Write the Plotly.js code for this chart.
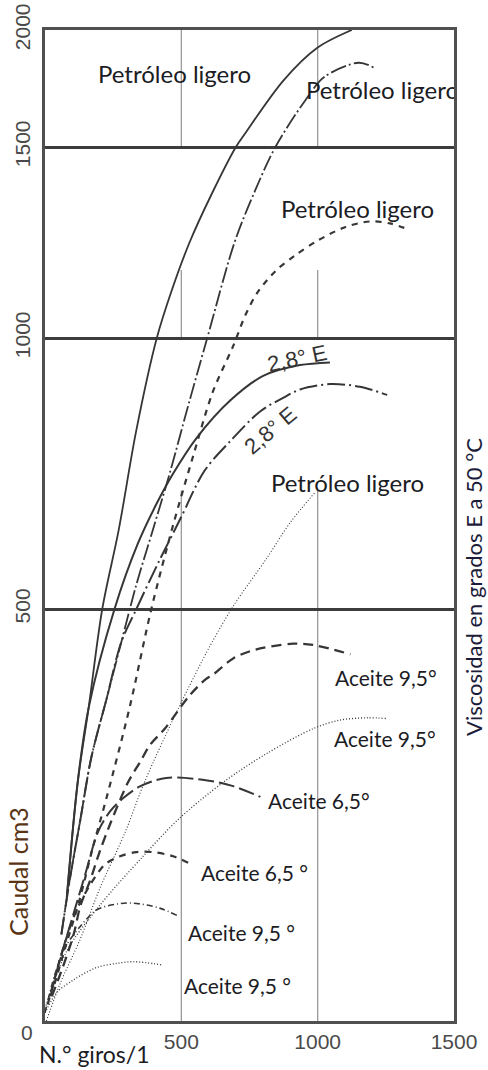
<!DOCTYPE html>
<html><head><meta charset="utf-8">
<script src="https://cdn.plot.ly/plotly-3.0.1.min.js"></script>
<style>html,body{margin:0;padding:0;background:#fff}#chart{width:488px;height:1070px}</style>
</head><body><div id="chart"></div>
<script>
// ---- tick labels ----
const xTicks = [500, 1000, 1500];
const yTicks = [500, 1000, 1500, 2000];

// ---- series (x: N.° giros/1, y: Caudal cm3) ----
// Petróleo ligero (solid)
const petA_x = [80,120,160,210,270,335,410,465,530,610,700,735,875,1000,1125];
const petA_y = [150,290,380,500,645,830,1000,1125,1250,1375,1500,1560,1785,1925,2000];
// Petróleo ligero (dash-dot)
const petB_x = [60,90,130,170,225,280,335,395,460,525,595,695,770,845,955,1025,1150,1205];
const petB_y = [105,170,245,320,390,460,545,645,755,875,1000,1250,1385,1500,1700,1800,1860,1840];
// Petróleo ligero (dashed)
const petC_x = [35,75,125,175,225,310,390,470,545,615,690,735,780,845,915,1000,1100,1190,1265,1330];
const petC_y = [45,90,145,210,270,380,500,655,785,900,985,1060,1120,1175,1215,1255,1290,1305,1300,1285];
// Petróleo ligero (dotted)
const petF_x = [5,55,130,200,295,365,490,605,690,815,900,990];
const petF_y = [0,45,100,160,230,290,380,455,505,595,660,715];
// 2,8° E (solid)
const e28a_x = [80,120,160,255,340,410,470,555,680,800,935,1045];
const e28a_y = [150,290,380,500,620,695,750,815,885,930,950,955];
// 2,8° E (dash-dot)
const e28b_x = [60,90,130,170,225,280,335,420,495,585,680,790,875,935,1045,1155,1255];
const e28b_y = [105,170,245,320,390,460,500,590,665,755,810,865,890,905,915,910,895];
// Aceite 9,5° (long dash)
const ac95a_x = [25,65,105,130,165,200,240,305,350,385,440,530,590,615,690,765,910,990,1120];
const ac95a_y = [30,65,105,140,170,205,240,290,315,335,355,395,415,420,440,450,458,456,445];
// Aceite 9,5° (dotted)
const ac95b_x = [0,80,200,360,490,655,815,985,1080,1180,1255];
const ac95b_y = [15,85,140,200,245,290,325,355,365,368,367];
// Aceite 6,5° (long dash)
const ac65a_x = [20,55,100,145,195,240,285,350,445,595,690,790];
const ac65a_y = [30,75,125,175,230,255,270,285,295,292,285,272];
// Aceite 6,5° (dashed)
const ac65b_x = [10,55,110,165,220,275,335,395,470,525];
const ac65b_y = [20,75,130,165,190,200,205,205,200,192];
// Aceite 9,5° (dash-dot-dot)
const ac95c_x = [0,35,75,130,190,265,325,420,485];
const ac95c_y = [10,55,90,115,135,142,143,137,128];
// Aceite 9,5° (dotted, lowest)
const ac95d_x = [0,45,105,190,265,325,430];
const ac95d_y = [10,35,50,65,70,72,68];

// ---- the chart's non-uniform vertical scale (piecewise linear) ----
const valBreaks = [0, 500, 1000, 1500, 2000];
const posBreaks = [0, 412, 683, 874, 991];
function T(v){
  for (let i = 0; i < valBreaks.length - 1; i++){
    if (v <= valBreaks[i+1] || i === valBreaks.length - 2){
      const f = (v - valBreaks[i]) / (valBreaks[i+1] - valBreaks[i]);
      return posBreaks[i] + f * (posBreaks[i+1] - posBreaks[i]);
    }
  }
}

const INK = '#363636';
function curve(xs, ys, dash, width){
  return {x: xs, y: ys.map(T), type: 'scatter', mode: 'lines',
    line: {color: INK, width: width, dash: dash, shape: 'spline', smoothing: 0.9},
    hoverinfo: 'skip', showlegend: false, cliponaxis: true};
}

const traces = [
  curve(petA_x, petA_y, 'solid', 1.8),
  curve(petB_x, petB_y, '16px,3px,2px,3px', 1.8),
  curve(petC_x, petC_y, '6px,6px', 2.2),
  curve(petF_x, petF_y, '1px,2px', 1.1),
  curve(e28a_x, e28a_y, 'solid', 2),
  curve(e28b_x, e28b_y, '18px,4px,2px,4px', 2),
  curve(ac95a_x, ac95a_y, '10px,6px', 2.3),
  curve(ac95b_x, ac95b_y, '1px,2px', 1.3),
  curve(ac65a_x, ac65a_y, '16px,5px', 2),
  curve(ac65b_x, ac65b_y, '7px,6px', 2.2),
  curve(ac95c_x, ac95c_y, '6px,3px,1px,3px', 1.6),
  curve(ac95d_x, ac95d_y, '1px,2px', 1.3)
];

// clipped label (cut by the frame in the original)
traces.push({x: [957], y: [928], type: 'scatter', mode: 'text', text: ['Petróleo ligero'],
  textposition: 'middle right', cliponaxis: true, hoverinfo: 'skip', showlegend: false,
  textfont: {family: 'Lato, sans-serif', size: 24, color: '#1c1c24'}});

// ---- layout helpers (pixel -> paper) ----
const L = 45, R = 454, TOP = 30, BOT = 1021;
const px = p => (p - L) / (R - L);
const py = p => (BOT - p) / (BOT - TOP);

const labelFont = (s) => ({family: 'Lato, sans-serif', size: s, color: '#1c1c24'});
const ann = (text, cx, cy, size, extra) => Object.assign({text: text, x: px(cx), y: py(cy),
  xref: 'paper', yref: 'paper', xanchor: 'center', yanchor: 'middle', showarrow: false,
  font: labelFont(size)}, extra || {});

const arialFont = (s, c) => ({family: 'Liberation Sans, Arial, sans-serif', size: s, color: c});
const annotations = [
  ann('Petróleo ligero', 174, 74, 24),
  ann('Petróleo ligero', 357, 209, 24),
  ann('Petróleo ligero', 347, 482, 24),
  ann('Aceite 9,5°', 386, 678, 21),
  ann('Aceite 9,5°', 385, 738, 21),
  ann('Aceite 6,5°', 319, 800, 21),
  ann('Aceite 6,5 °', 254, 873, 21),
  ann('Aceite 9,5 °', 241, 932, 21),
  ann('Aceite 9,5 °', 237, 985, 21),
  ann('2,8° E', 297, 358, 22, {textangle: -12, font: arialFont(22, '#333')}),
  ann('2,8° E', 270, 430, 22, {textangle: -40, font: arialFont(22, '#333')}),
  ann('0', 27, 1032, 21, {font: arialFont(21, '#4a4a4a')}),
  ann('N.° giros/1', 94, 1054, 23),
  ann('Caudal cm3', 18, 872, 25, {textangle: -90, font: {family: 'Lato, sans-serif', size: 25, color: '#5a3515'}}),
  ann('Viscosidad en grados E a 50 °C', 474, 587, 22, {textangle: -90, font: {family: 'Lato, sans-serif', size: 22, color: '#1c1c3a'}})
];

// thin vertical rules at 500 and 1000 (with the original's gaps)
const shapes = [];
[500, 1000].forEach(gx => {
  [[0, 718], [1000, 1178], [1500, 2000]].forEach(seg => {
    shapes.push({type: 'line', xref: 'x', yref: 'y', x0: gx, x1: gx, y0: T(seg[0]), y1: T(seg[1]),
      line: {color: '#9a9a9a', width: 1.3}, layer: 'below'});
  });
});

const tickFont = arialFont(21, '#4a4a4a');
const layout = {
  width: 488, height: 1070,
  margin: {l: L, r: 488 - R, t: TOP, b: 1070 - BOT, pad: 0},
  paper_bgcolor: '#fff', plot_bgcolor: '#fff',
  showlegend: false, hovermode: false,
  xaxis: {range: [0, 1500], tickvals: xTicks, ticktext: xTicks.map(String), tickfont: tickFont,
    showgrid: false, zeroline: false, showline: true, mirror: true, linecolor: '#505050', linewidth: 3,
    ticks: '', fixedrange: true},
  yaxis: {range: [0, 991], tickvals: yTicks.map(T), ticktext: yTicks.map(String), tickangle: -90,
    tickfont: tickFont, showgrid: true, gridcolor: '#3c3c3c', gridwidth: 3, ticklabelstandoff: 4,
    zeroline: false, showline: true, mirror: true, linecolor: '#505050', linewidth: 3,
    ticks: '', fixedrange: true},
  annotations: annotations,
  shapes: shapes
};

Plotly.newPlot('chart', traces, layout, {displayModeBar: false, staticPlot: true});
</script>
</body></html>
